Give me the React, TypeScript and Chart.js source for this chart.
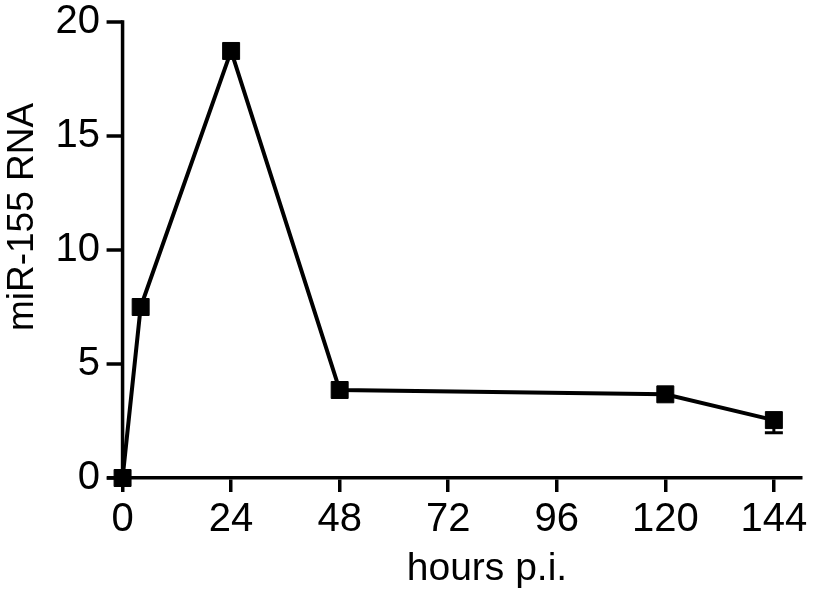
import React, { useEffect, useRef } from "react";
import { Chart, registerables } from "chart.js";

Chart.register(...registerables);

const hours = [0, 4, 24, 48, 120, 144];
const mir155 = [0, 7.5, 18.73, 3.86, 3.67, 2.54];
const errLow = [0, 0, 0, 0, 0, 0.56];
const xTicks = [0, 24, 48, 72, 96, 120, 144];
const yTicks = [0, 5, 10, 15, 20];
const xTitle = "hours p.i.";
const yTitle = "miR-155 RNA";

const FONT = "'Liberation Sans', Arial, Helvetica, sans-serif";

const axisPlugin = {
  id: "prismAxes",
  beforeDatasetsDraw(chart: any) {
    const { ctx, scales } = chart;
    const x = scales.x;
    const y = scales.y;
    const x0 = x.getPixelForValue(0);
    ctx.save();
    ctx.strokeStyle = "#000";
    ctx.lineWidth = 3.5;
    ctx.lineCap = "butt";
    // y axis line at x = 0
    ctx.beginPath();
    ctx.moveTo(x0, y.getPixelForValue(0) + 1.75);
    ctx.lineTo(x0, y.getPixelForValue(20) - 1.75);
    ctx.stroke();
    // y tick marks
    yTicks.forEach((v) => {
      const py = y.getPixelForValue(v);
      ctx.beginPath();
      ctx.moveTo(x0 - 16, py);
      ctx.lineTo(x0, py);
      ctx.stroke();
    });
    // error bars (drawn under markers)
    ctx.lineWidth = 3;
    hours.forEach((h, i) => {
      const e = errLow[i];
      if (!e) return;
      const px = x.getPixelForValue(h);
      const pm = y.getPixelForValue(mir155[i]);
      const pl = y.getPixelForValue(mir155[i] - e);
      ctx.beginPath();
      ctx.moveTo(px, pm);
      ctx.lineTo(px, pl);
      ctx.moveTo(px - 9, pl);
      ctx.lineTo(px + 9, pl);
      ctx.stroke();
    });
    ctx.restore();
  },
  afterDraw(chart: any) {
    const { ctx } = chart;
    ctx.save();
    ctx.fillStyle = "#000";
    ctx.font = `39px ${FONT}`;
    ctx.textAlign = "center";
    ctx.textBaseline = "alphabetic";
    ctx.fillText(xTitle, 487, 580);
    ctx.translate(33, 217);
    ctx.rotate(-Math.PI / 2);
    ctx.font = `37px ${FONT}`;
    ctx.fillText(yTitle, 0, 0);
    ctx.restore();
  },
};

export default function App() {
  const ref = useRef<HTMLCanvasElement | null>(null);
  useEffect(() => {
    if (!ref.current) return;
    const chart = new Chart(ref.current, {
      type: "line",
      data: {
        datasets: [
          {
            data: hours.map((h, i) => ({ x: h, y: mir155[i] })),
            borderColor: "#000",
            backgroundColor: "#000",
            borderWidth: 4,
            pointStyle: "rect",
            pointRadius: 12,
            pointBorderWidth: 1,
            pointBackgroundColor: "#000",
            pointBorderColor: "#000",
            tension: 0,
            clip: false as any,
          },
        ],
      },
      options: {
        responsive: false,
        animation: false,
        layout: { padding: { top: 22, right: 10, left: 0, bottom: 0 } },
        plugins: { legend: { display: false }, tooltip: { enabled: false } },
        scales: {
          x: {
            type: "linear",
            min: -3,
            max: 150,
            afterBuildTicks: (s: any) => {
              s.ticks = xTicks.map((v) => ({ value: v }));
            },
            afterFit: (s: any) => {
              s.height = 116;
              s.paddingLeft = 0;
              s.paddingRight = 0;
            },
            grid: {
              display: true,
              drawOnChartArea: false,
              drawTicks: true,
              tickLength: 14,
              lineWidth: 3.5,
              color: "#000",
            },
            border: { display: true, color: "#000", width: 3.5 },
            ticks: {
              color: "#000",
              font: { family: FONT, size: 40 },
              padding: 4,
              maxRotation: 0,
              autoSkip: false,
            },
          },
          y: {
            type: "linear",
            min: 0,
            max: 20,
            afterBuildTicks: (s: any) => {
              s.ticks = yTicks.map((v) => ({ value: v }));
            },
            afterFit: (s: any) => {
              s.width = 109;
              s.paddingTop = 0;
              s.paddingBottom = 0;
            },
            grid: { display: false, drawTicks: false },
            border: { display: false },
            ticks: {
              color: "#000",
              font: { family: FONT, size: 40 },
              padding: 9,
            },
          },
        },
      },
      plugins: [axisPlugin],
    });
    return () => chart.destroy();
  }, []);
  return (
    <div style={{ position: "fixed", left: 0, top: 0, width: 814, height: 594, background: "#fff" }}>
      <canvas ref={ref} width={814} height={594} style={{ display: "block" }} />
    </div>
  );
}
